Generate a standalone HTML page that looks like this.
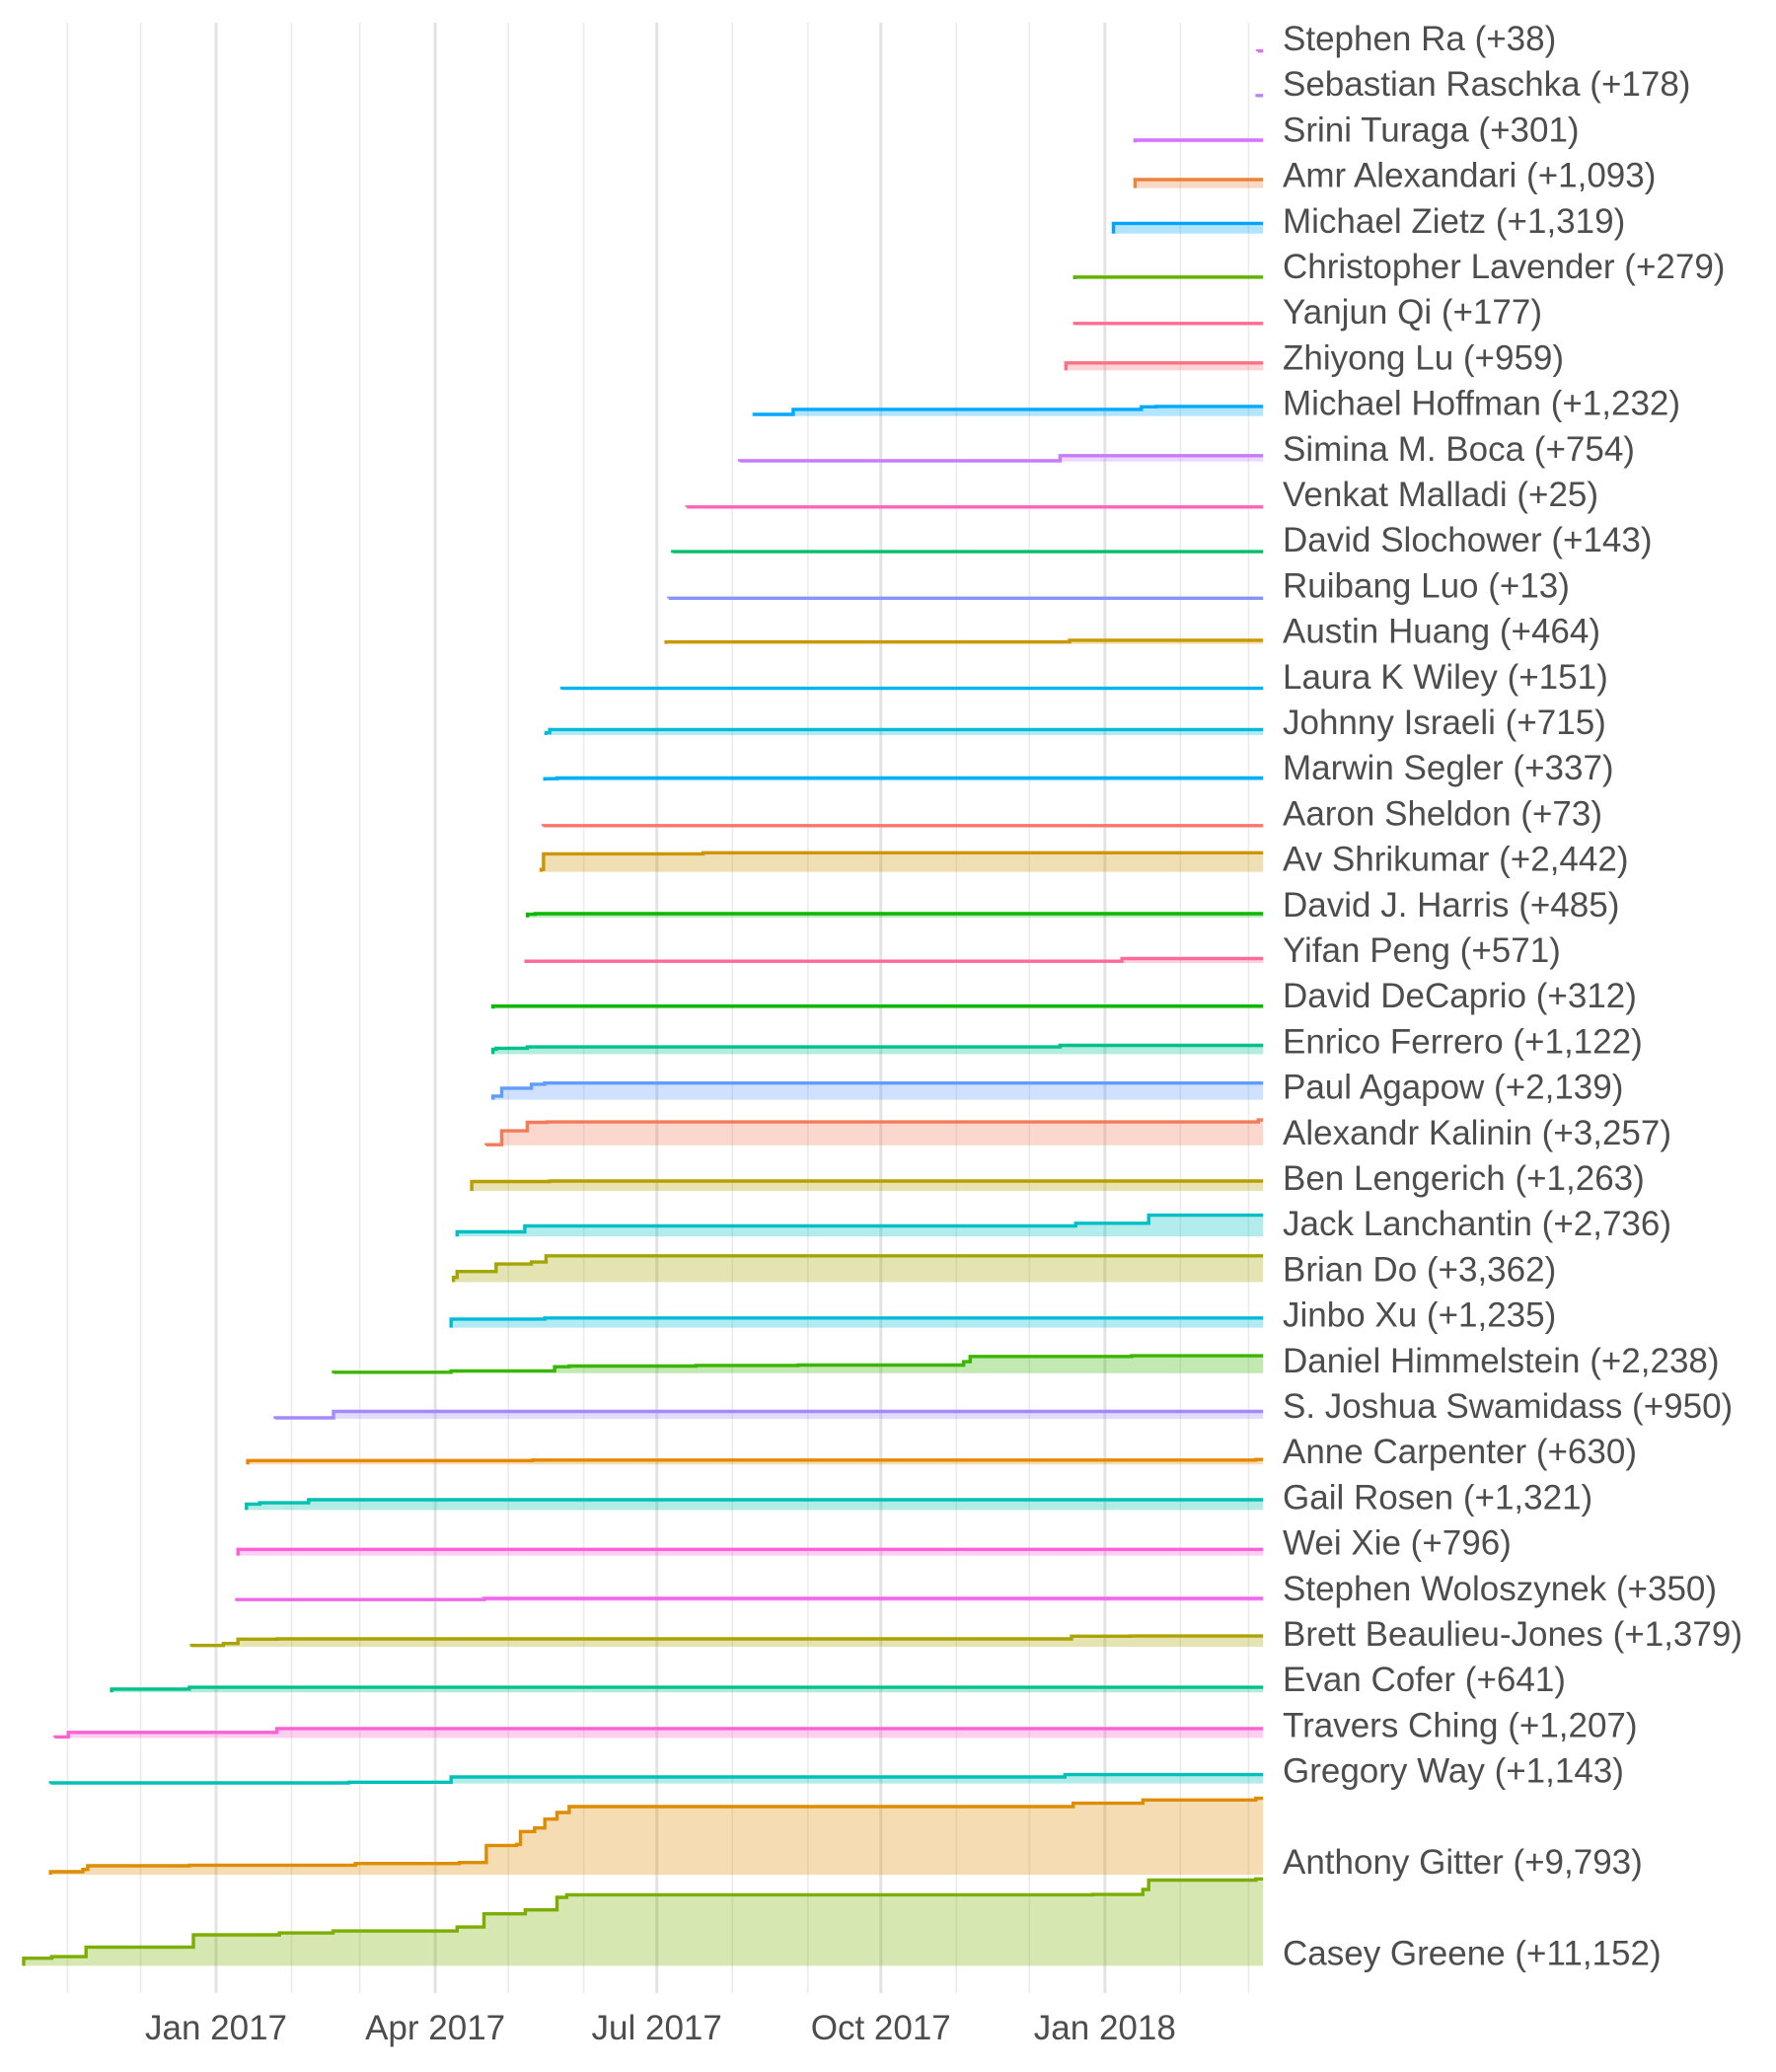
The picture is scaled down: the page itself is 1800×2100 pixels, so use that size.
<!DOCTYPE html>
<html><head><meta charset="utf-8">
<style>
html,body{margin:0;padding:0;background:#fff;}
svg{display:block;font-family:"Liberation Sans",Arial,sans-serif;}
</style></head>
<body>
<svg id="chart" width="1800" height="2100" viewBox="0 0 1800 2100" xmlns="http://www.w3.org/2000/svg">
<rect x="0" y="0" width="1800" height="2100" fill="#ffffff"/>
<g id="grid"></g>
<g id="series"></g>
<g id="labels"></g>
<g id="xaxis"></g>
</svg>
<script>
// ---- data (days relative to 2017-01-01) ----
const names = ["Stephen Ra","Sebastian Raschka","Srini Turaga","Amr Alexandari","Michael Zietz","Christopher Lavender","Yanjun Qi","Zhiyong Lu","Michael Hoffman","Simina M. Boca","Venkat Malladi","David Slochower","Ruibang Luo","Austin Huang","Laura K Wiley","Johnny Israeli","Marwin Segler","Aaron Sheldon","Av Shrikumar","David J. Harris","Yifan Peng","David DeCaprio","Enrico Ferrero","Paul Agapow","Alexandr Kalinin","Ben Lengerich","Jack Lanchantin","Brian Do","Jinbo Xu","Daniel Himmelstein","S. Joshua Swamidass","Anne Carpenter","Gail Rosen","Wei Xie","Stephen Woloszynek","Brett Beaulieu-Jones","Evan Cofer","Travers Ching","Gregory Way","Anthony Gitter","Casey Greene"];
const rowSlot = [0,1,2,3,4,5,6,7,8,9,10,11,12,13,14,15,16,17,18,19,20,21,22,23,24,25,26,27,28,29,30,31,32,33,34,35,36,37,38,40,42];
const stepDays = [
 [427.8],[427.5],[377.4],[377.4],[368.5],[352.6],[352.6],[349],
 [221,237,380,386],
 [215,346.6],
 [193.4],[187.5],[185.9],
 [184.8,350.5],
 [142],
 [135.5,137],
 [135,140],
 [134.4],
 [133.5,134.5,200],
 [127.9,131],
 [127.3,372],
 [113.7],
 [113.7,115,127.8,346.6],
 [113.7,117.3,129.5,134.9],
 [111,117.3,127.8,136,428],
 [105,137],
 [99,126.8,353,383],
 [97.5,99,115,129.5,135.5],
 [96.5,135],
 [48.2,96.5,139,145,197,239,307,309.7,376],
 [24.3,48.2],
 [13,130,427],
 [12.5,17.9,38],
 [9],
 [8.5,110],
 [-10,3,9,25.3,351.3,375.5],
 [-42.9,-11],
 [-66.1,-60.7,25],
 [-68,54.5,96.5,348.6],
 [-68,-54.7,-52.7,-11,57.2,99.9,111,123.4,125,130.8,135,140,145,352,380.6,427],
 [-79,-67.5,-53.4,-9.3,26,48,99,110,127,140,144,360,380.6,383,427]
];
const stepValues = [
 [38],[178],[301],[1093],[1319],[279],[177],[959],
 [200,850,1180,1232],
 [100,754],
 [25],[143],[13],
 [250,464],
 [151],
 [300,715],
 [250,337],
 [73],
 [300,2300,2442],
 [400,485],
 [230,571],
 [312],
 [630,760,930,1122],
 [470,1480,1990,2139],
 [80,1860,2950,3000,3257],
 [1200,1263],
 [590,1350,1690,2736],
 [590,1350,2320,2570,3362],
 [1100,1235],
 [130,300,840,930,1000,1050,1480,2150,2238],
 [130,950],
 [500,560,630],
 [760,930,1321],
 [796],
 [200,350],
 [170,420,970,1010,1350,1379],
 [420,641],
 [130,715,1207],
 [80,170,840,1143],
 [380,675,1140,1220,1435,1560,3750,3880,5530,5990,7130,7970,8730,9160,9580,9793],
 [970,1180,2400,3970,4220,4470,4980,6670,7180,8780,9120,9150,9800,11000,11152]
];
const colors = ["#e36ef6","#b983ff","#d575fe","#ec823c","#00a5ff","#64b200","#ff6c91","#fc717f","#00a9ff","#c77cff","#ff62bc","#00be67","#8494ff","#c99800","#00b4f0","#00bcd8","#00b0f6","#f8766d","#cd9600","#0cb702","#ff6a98","#0cb702","#00c08b","#619cff","#f37b59","#b79f00","#00bfc4","#a3a500","#00bcd8","#39b600","#a58aff","#e58700","#00c0af","#fb61d7","#ef67eb","#aba300","#00c08b","#fd61d1","#00c0b8","#de8c00","#7cae00"];
const tickLabels = ["Jan 2017","Apr 2017","Jul 2017","Oct 2017","Jan 2018"];
const tickDays = [0,90,181,273,365];
const minorDays = [-61,-31,31,59,120,151,212,243,304,334,396,424];
const endDay = 430;

// ---- scales ----
const xScale = d => 219 + 2.468 * d;
const rowBase = s => 52 + 46.2 * s;
const hScale = v => 0.0079 * v;
const NS = "http://www.w3.org/2000/svg";
const mk = (tag, parent) => { const e = document.createElementNS(NS, tag); parent.appendChild(e); return e; };

// grid
const grid = document.getElementById('grid');
minorDays.forEach(d => {
  const l = mk('line', grid);
  l.setAttribute('x1', xScale(d)); l.setAttribute('x2', xScale(d));
  l.setAttribute('y1', 23); l.setAttribute('y2', 2020);
  l.setAttribute('stroke', '#ebebeb'); l.setAttribute('stroke-width', 1.6);
  
  
});
tickDays.forEach(d => {
  const l = mk('line', grid);
  l.setAttribute('x1', xScale(d)); l.setAttribute('x2', xScale(d));
  l.setAttribute('y1', 23); l.setAttribute('y2', 2020);
  l.setAttribute('stroke', '#e3e3e3'); l.setAttribute('stroke-width', 3);
  
  
});

// series
const sg = document.getElementById('series');
const lg = document.getElementById('labels');
names.forEach((name, i) => {
  const base = rowBase(rowSlot[i]);
  const days = stepDays[i], vals = stepValues[i];
  const xEnd = xScale(endDay);
  let pts = [];
  pts.push([xScale(days[0]), base]);
  for (let k = 0; k < days.length; k++) {
    const x = xScale(days[k]);
    const prevY = k === 0 ? base : base - hScale(vals[k - 1]);
    if (k > 0) pts.push([x, prevY]);
    pts.push([x, base - hScale(vals[k])]);
  }
  pts.push([xEnd, base - hScale(vals[vals.length - 1])]);
  const lineD = 'M' + pts.map(p => p[0].toFixed(1) + ' ' + p[1].toFixed(1)).join(' L');
  const areaD = lineD + ' L' + xEnd.toFixed(1) + ' ' + base.toFixed(1) + ' Z';
  const g = mk('g', sg);
  
  
  const a = mk('path', g);
  a.setAttribute('d', areaD); a.setAttribute('fill', colors[i]); a.setAttribute('fill-opacity', 0.3);
  
  
  const p = mk('path', g);
  p.setAttribute('d', lineD); p.setAttribute('fill', 'none'); p.setAttribute('stroke', colors[i]);
  p.setAttribute('stroke-width', 3.4); p.setAttribute('stroke-linejoin', 'miter');
  
  
  const t = mk('text', lg);
  t.setAttribute('x', 1300); t.setAttribute('y', base - 1);
  t.setAttribute('font-size', 35); t.setAttribute('fill', '#4d4d4d');
  t.textContent = name + ' (+' + vals[vals.length - 1].toLocaleString('en-US') + ')';
  
  
});

// x axis labels
const xa = document.getElementById('xaxis');
tickDays.forEach((d, i) => {
  const t = mk('text', xa);
  t.setAttribute('x', xScale(d)); t.setAttribute('y', 2067);
  t.setAttribute('text-anchor', 'middle'); t.setAttribute('font-size', 35); t.setAttribute('fill', '#4d4d4d');
  t.textContent = tickLabels[i];
  
  
});
</script>
</body></html>
